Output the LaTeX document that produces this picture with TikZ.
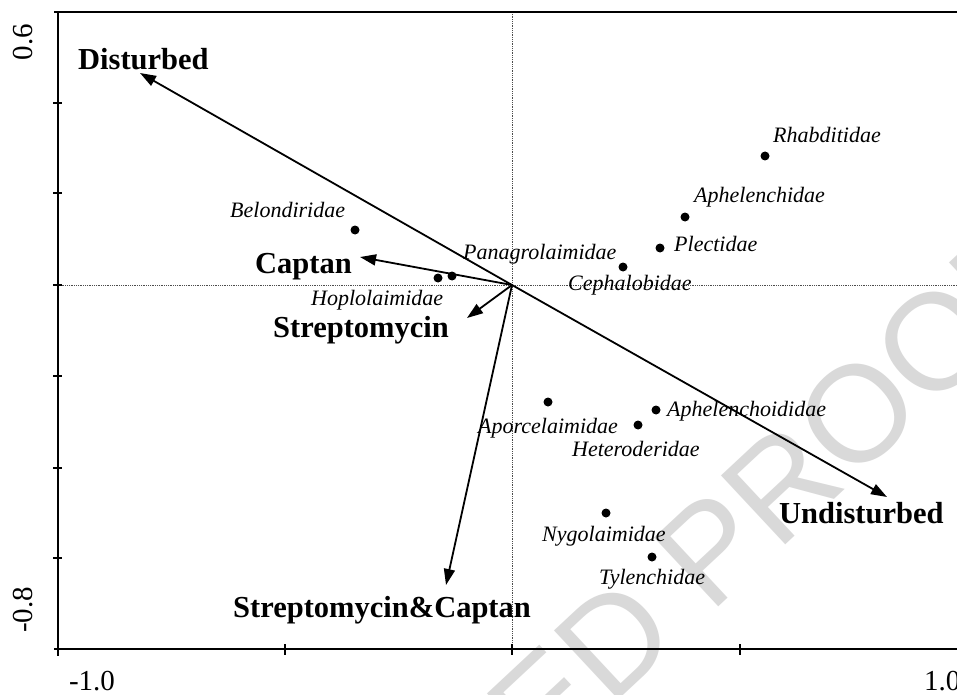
\documentclass[tikz,border=0pt]{standalone}
\usepackage{fontspec}
\setmainfont{Liberation Serif}
\newfontfamily\wmfont{Liberation Sans}
\usetikzlibrary{arrows.meta}
\definecolor{wmgray}{HTML}{D9D9D9}
\begin{document}
\begin{tikzpicture}[x=1pt,y=-1pt,
  axisline/.style={line width=2pt, line cap=rect},
  tickline/.style={line width=1.6pt},
  gridline/.style={line width=0.8pt, black!70, dash pattern=on 1pt off 0.8pt},
  vec/.style={line width=1.8pt, -{Triangle[length=16pt,width=11pt]}},
  biglab/.style={font=\fontsize{30.5}{32}\selectfont\bfseries, inner sep=0pt, anchor=base west},
  famlab/.style={font=\fontsize{22}{24}\selectfont\itshape, inner sep=0pt, anchor=base west},
  dot/.style={circle, fill=black, inner sep=0pt, minimum size=9pt},
  ticklab/.style={font=\fontsize{29}{30}\selectfont, inner sep=0pt},
  wm/.style={font=\wmfont\fontsize{137}{140}\selectfont, text=wmgray, inner sep=0pt},
]
\clip (0,0) rectangle (957,695);
\fill[white] (0,0) rectangle (957,695);
% watermark
\node[wm, anchor=base west, rotate=43] (wmark) at (543.8,770.4) {ED PROOF};
% dotted axes through origin
\coordinate (O) at (512,285);
\coordinate (vtop) at (512,12);
\coordinate (vbot) at (512,649);
\coordinate (hleft) at (58,285);
\coordinate (hright) at (957,285);
\draw[gridline] (vtop) -- (vbot);
\draw[gridline] (hleft) -- (hright);
% frame and axes
\coordinate (tl) at (55,12);
\coordinate (tr) at (960,12);
\coordinate (bl) at (55,649);
\coordinate (br) at (960,649);
\coordinate (ax0) at (58,12);
\coordinate (ax1) at (58,655);
\draw[axisline] (tl) -- (tr);
\draw[axisline] (bl) -- (br);
\draw[axisline] (ax0) -- (ax1);
\foreach \yy in {103,193,285,376,468,558} \draw[tickline] (53,\yy) -- (62,\yy);
\foreach \xx in {285,512,740} \draw[tickline] (\xx,644) -- (\xx,655);
% tick labels
\node[ticklab, rotate=90] (y06) at (23,42) {0.6};
\node[ticklab, rotate=90] (ym08) at (23,610) {-0.8};
\node[ticklab] (xm10) at (92,681) {-1.0};
\node[ticklab, anchor=west] (x10) at (924,681) {1.0};
% vectors
\coordinate (tDis) at (140,73);
\coordinate (tUnd) at (887,497);
\coordinate (tCap) at (360,257);
\coordinate (tStr) at (467,318);
\coordinate (tSC) at (446,585);
\draw[vec] (O) -- (tDis);
\draw[vec] (O) -- (tUnd);
\draw[vec] (O) -- (tCap);
\draw[vec] (O) -- (tStr);
\draw[vec] (O) -- (tSC);
\node[biglab] (lDis) at (78,70) {Disturbed};
\node[biglab] (lUnd) at (779,523) {Undisturbed};
\node[biglab] (lCap) at (255,273) {Captan};
\node[biglab] (lStr) at (273,337) {Streptomycin};
\node[biglab] (lSC) at (233,617) {Streptomycin\&Captan};
% families
\node[dot] (dRha) at (765,156) {};
\node[dot] (dAphe) at (685,217) {};
\node[dot] (dPle) at (660,248) {};
\node[dot] (dCep) at (623,267) {};
\node[dot] (dBel) at (355,230) {};
\node[dot] (dHop1) at (438,278) {};
\node[dot] (dHop2) at (452,276) {};
\node[dot] (dApo) at (548,402) {};
\node[dot] (dHet) at (638,425) {};
\node[dot] (dAphc) at (656,410) {};
\node[dot] (dNyg) at (606,513) {};
\node[dot] (dTyl) at (652,557) {};
\node[famlab] (fRha) at (773,143) {Rhabditidae};
\node[famlab] (fAphe) at (694,202) {Aphelenchidae};
\node[famlab] (fPle) at (674,251) {Plectidae};
\node[famlab] (fPan) at (463,259) {Panagrolaimidae};
\node[famlab] (fCep) at (568,290) {Cephalobidae};
\node[famlab] (fBel) at (230,217) {Belondiridae};
\node[famlab] (fHop) at (311,305) {Hoplolaimidae};
\node[famlab] (fApo) at (478,433) {Aporcelaimidae};
\node[famlab] (fAphc) at (667,416) {Aphelenchoididae};
\node[famlab] (fHet) at (572,456) {Heteroderidae};
\node[famlab] (fNyg) at (542,541) {Nygolaimidae};
\node[famlab] (fTyl) at (599,584) {Tylenchidae};
\end{tikzpicture}
\end{document}
